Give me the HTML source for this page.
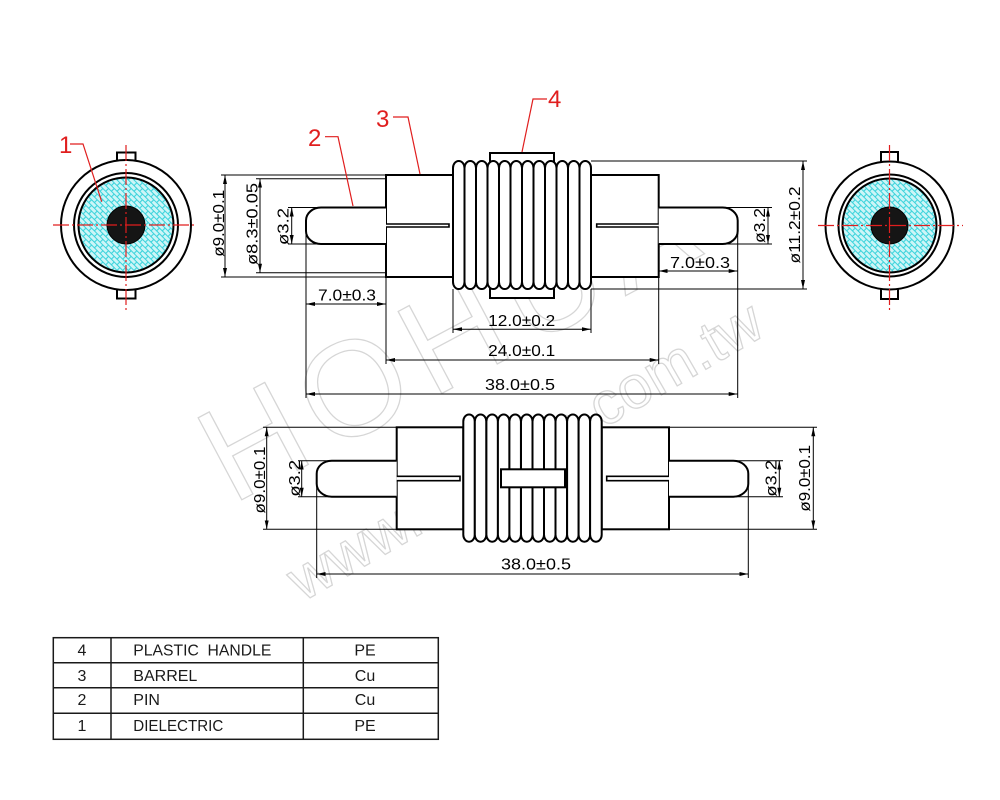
<!DOCTYPE html>
<html><head><meta charset="utf-8"><style>
html,body{margin:0;padding:0;background:#fff;}
svg{display:block;}
text{font-family:"Liberation Sans",sans-serif;}
</style></head><body>
<svg width="1000" height="800" viewBox="0 0 1000 800" xmlns="http://www.w3.org/2000/svg">
<defs>
<marker id="ar" viewBox="0 -3 9 6" refX="9" refY="0" markerWidth="9" markerHeight="6" markerUnits="userSpaceOnUse" orient="auto-start-reverse"><path d="M9,0 L0,-2 L0,2z" fill="#000"/></marker>
<pattern id="hat" patternUnits="userSpaceOnUse" width="8" height="8" patternTransform="rotate(45)">
<rect width="8" height="8" fill="#cdf5f7"/>
<path d="M0,0.5H8M0,4.5H8M2,0.5V4.5M6,4.5V8.5" stroke="#3ad3db" stroke-width="1.1" fill="none"/>
</pattern>
</defs>
<rect width="1000" height="800" fill="#fff"/>

<!-- watermark -->
<g fill="none" stroke="#d6d6d6" stroke-width="1.3">
<text x="232" y="505" font-size="135" letter-spacing="12" transform="rotate(-28 232 505)">HOHUA</text>
<text x="535" y="468" font-size="60" text-anchor="middle" transform="rotate(-30 535 468)">www.ho-hua.com.tw</text>
</g>

<!-- ========== LEFT CIRCLE VIEW ========== -->
<g stroke="#000" stroke-width="2">
<rect x="117" y="152.5" width="18.5" height="11" fill="#fff"/>
<rect x="117" y="287.5" width="18.5" height="11" fill="#fff"/>
<circle cx="126" cy="225" r="65" fill="#fff"/>
<circle cx="126" cy="225" r="52" fill="#fff"/>
<circle cx="126" cy="225" r="47.5" fill="url(#hat)"/>
<circle cx="126" cy="225" r="19" fill="#151515" stroke-width="1"/>
</g>
<g stroke="#e01e1e" stroke-width="1.2" stroke-dasharray="16 3 2 3">
<line x1="53" y1="225" x2="197" y2="225"/>
<line x1="126" y1="145" x2="126" y2="312"/>
</g>
<!-- RIGHT CIRCLE VIEW -->
<g stroke="#000" stroke-width="2">
<rect x="881" y="152" width="17" height="11" fill="#fff"/>
<rect x="881" y="288" width="17" height="11" fill="#fff"/>
<circle cx="889.5" cy="225.5" r="64" fill="#fff"/>
<circle cx="889.5" cy="225.5" r="51" fill="#fff"/>
<circle cx="889.5" cy="225.5" r="47" fill="url(#hat)"/>
<circle cx="889.5" cy="225.5" r="18.5" fill="#151515" stroke-width="1"/>
</g>
<g stroke="#e01e1e" stroke-width="1.2" stroke-dasharray="16 3 2 3">
<line x1="818" y1="225.5" x2="963" y2="225.5"/>
<line x1="889.5" y1="145" x2="889.5" y2="312"/>
</g>

<!-- ========== TOP VIEW ========== -->
<g stroke="#000" stroke-width="2" fill="#fff">
<rect x="490" y="153" width="64" height="145"/>
<rect x="386" y="175" width="67" height="102"/>
<rect x="591" y="175" width="67.7" height="102"/>
<path d="M386,207.5 L321,207.5 A15,13 0 0 0 306,220.5 L306,231 A15,13 0 0 0 321,244 L386,244"/>
<path d="M658.7,207.5 L722.7,207.5 A15,13 0 0 1 737.7,220.5 L737.7,231 A15,13 0 0 1 722.7,244 L658.7,244"/>
<path d="M386,224 H449 V227 H386" stroke-width="1.6"/>
<path d="M658.7,224 H596.7 V227 H658.7" stroke-width="1.6"/>
<rect x="453" y="161" width="11.5" height="128" rx="5.7" ry="7"/>
<rect x="464.5" y="161" width="11.5" height="128" rx="5.7" ry="7"/>
<rect x="476" y="161" width="11.5" height="128" rx="5.7" ry="7"/>
<rect x="487.5" y="161" width="11.5" height="128" rx="5.7" ry="7"/>
<rect x="499" y="161" width="11.5" height="128" rx="5.7" ry="7"/>
<rect x="510.5" y="161" width="11.5" height="128" rx="5.7" ry="7"/>
<rect x="522" y="161" width="11.5" height="128" rx="5.7" ry="7"/>
<rect x="533.5" y="161" width="11.5" height="128" rx="5.7" ry="7"/>
<rect x="545" y="161" width="11.5" height="128" rx="5.7" ry="7"/>
<rect x="556.5" y="161" width="11.5" height="128" rx="5.7" ry="7"/>
<rect x="568" y="161" width="11.5" height="128" rx="5.7" ry="7"/>
<rect x="579.5" y="161" width="11.5" height="128" rx="5.7" ry="7"/>
</g>

<!-- top view dimensions -->
<g stroke="#000" stroke-width="1" fill="none">
<line x1="221" y1="175" x2="386" y2="175"/>
<line x1="221" y1="277" x2="386" y2="277"/>
<line x1="256" y1="178.7" x2="386" y2="178.7"/>
<line x1="256" y1="272.7" x2="386" y2="272.7"/>
<line x1="288" y1="207.5" x2="320" y2="207.5"/>
<line x1="288" y1="244" x2="320" y2="244"/>
<line x1="306" y1="226" x2="306" y2="398"/>
<line x1="386" y1="277" x2="386" y2="364"/>
<line x1="453" y1="289" x2="453" y2="333"/>
<line x1="591" y1="289" x2="591" y2="333"/>
<line x1="658.7" y1="277" x2="658.7" y2="364"/>
<line x1="737.7" y1="226" x2="737.7" y2="398"/>
<line x1="722" y1="207.5" x2="772" y2="207.5"/>
<line x1="722" y1="244" x2="772" y2="244"/>
<line x1="591" y1="161" x2="807" y2="161"/>
<line x1="591" y1="289" x2="807" y2="289"/>
<g marker-start="url(#ar)" marker-end="url(#ar)">
<line x1="225" y1="175" x2="225" y2="277"/>
<line x1="260" y1="178.7" x2="260" y2="272.7"/>
<line x1="291.7" y1="207.5" x2="291.7" y2="244"/>
<line x1="306" y1="304" x2="386" y2="304"/>
<line x1="453" y1="329.3" x2="591" y2="329.3"/>
<line x1="386" y1="360" x2="658.7" y2="360"/>
<line x1="306" y1="394" x2="737.7" y2="394"/>
<line x1="658.7" y1="271" x2="737.7" y2="271"/>
<line x1="768" y1="207.5" x2="768" y2="244"/>
<line x1="803" y1="161" x2="803" y2="289"/>
</g>
</g>
<g font-size="16" fill="#000">
<text transform="translate(224,223.3) rotate(-90)" text-anchor="middle" textLength="67" lengthAdjust="spacingAndGlyphs">ø9.0±0.1</text>
<text transform="translate(257.3,224) rotate(-90)" text-anchor="middle" textLength="82" lengthAdjust="spacingAndGlyphs">ø8.3±0.05</text>
<text transform="translate(288.3,226.5) rotate(-90)" text-anchor="middle" textLength="37" lengthAdjust="spacingAndGlyphs">ø3.2</text>
<text transform="translate(765,225.5) rotate(-90)" text-anchor="middle" textLength="35" lengthAdjust="spacingAndGlyphs">ø3.2</text>
<text transform="translate(800,225) rotate(-90)" text-anchor="middle" textLength="77" lengthAdjust="spacingAndGlyphs">ø11.2±0.2</text>
<text x="347" y="300.5" text-anchor="middle" textLength="58" lengthAdjust="spacingAndGlyphs">7.0±0.3</text>
<text x="700" y="268" text-anchor="middle" textLength="60" lengthAdjust="spacingAndGlyphs">7.0±0.3</text>
<text x="521.7" y="326" text-anchor="middle" textLength="67" lengthAdjust="spacingAndGlyphs">12.0±0.2</text>
<text x="521.7" y="356" text-anchor="middle" textLength="67" lengthAdjust="spacingAndGlyphs">24.0±0.1</text>
<text x="520" y="390" text-anchor="middle" textLength="70" lengthAdjust="spacingAndGlyphs">38.0±0.5</text>
</g>

<!-- red labels -->
<g stroke="#e01e1e" stroke-width="1.2" fill="none">
<polyline points="70,144 83,144 101.7,201.7"/>
<polyline points="325,136.7 338,136.7 353,206"/>
<polyline points="393,117 408,117 420,174"/>
<polyline points="547,99 533,99 522,152"/>
</g>
<g fill="#e01e1e" font-size="24">
<text x="59" y="153">1</text>
<text x="308" y="146">2</text>
<text x="376" y="127">3</text>
<text x="548" y="107">4</text>
</g>

<!-- ========== BOTTOM VIEW ========== -->
<g stroke="#000" stroke-width="2" fill="#fff">
<rect x="396.7" y="427.3" width="66.6" height="102"/>
<rect x="601.7" y="427.3" width="67.3" height="102"/>
<path d="M396.7,460.7 L331.7,460.7 A15,13 0 0 0 316.7,473.7 L316.7,483.7 A15,13 0 0 0 331.7,496.7 L396.7,496.7"/>
<path d="M669,460.7 L733.3,460.7 A15,13 0 0 1 748.3,473.7 L748.3,483.7 A15,13 0 0 1 733.3,496.7 L669,496.7"/>
<path d="M396.7,476.3 H460 V480.7 H396.7" stroke-width="1.6"/>
<path d="M669,476.3 H606.7 V480.7 H669" stroke-width="1.6"/>
<rect x="463.3" y="414.5" width="11.53" height="127.2" rx="5.7" ry="7"/>
<rect x="474.8" y="414.5" width="11.53" height="127.2" rx="5.7" ry="7"/>
<rect x="486.4" y="414.5" width="11.53" height="127.2" rx="5.7" ry="7"/>
<rect x="497.9" y="414.5" width="11.53" height="127.2" rx="5.7" ry="7"/>
<rect x="509.4" y="414.5" width="11.53" height="127.2" rx="5.7" ry="7"/>
<rect x="521" y="414.5" width="11.53" height="127.2" rx="5.7" ry="7"/>
<rect x="532.5" y="414.5" width="11.53" height="127.2" rx="5.7" ry="7"/>
<rect x="544" y="414.5" width="11.53" height="127.2" rx="5.7" ry="7"/>
<rect x="555.5" y="414.5" width="11.53" height="127.2" rx="5.7" ry="7"/>
<rect x="567.1" y="414.5" width="11.53" height="127.2" rx="5.7" ry="7"/>
<rect x="578.6" y="414.5" width="11.53" height="127.2" rx="5.7" ry="7"/>
<rect x="590.1" y="414.5" width="11.6" height="127.2" rx="5.7" ry="7"/>
<rect x="501" y="469.3" width="64" height="18"/>
</g>
<g stroke="#000" stroke-width="1" fill="none">
<line x1="263" y1="427.3" x2="396.7" y2="427.3"/>
<line x1="263" y1="529.3" x2="396.7" y2="529.3"/>
<line x1="298" y1="460.7" x2="331" y2="460.7"/>
<line x1="298" y1="496.7" x2="331" y2="496.7"/>
<line x1="669" y1="427.3" x2="817" y2="427.3"/>
<line x1="669" y1="529.3" x2="817" y2="529.3"/>
<line x1="734" y1="460.7" x2="783" y2="460.7"/>
<line x1="734" y1="496.7" x2="783" y2="496.7"/>
<line x1="316.7" y1="479" x2="316.7" y2="578"/>
<line x1="748.3" y1="479" x2="748.3" y2="578"/>
<g marker-start="url(#ar)" marker-end="url(#ar)">
<line x1="266.7" y1="427.3" x2="266.7" y2="529.3"/>
<line x1="301.7" y1="460.7" x2="301.7" y2="496.7"/>
<line x1="779.3" y1="460.7" x2="779.3" y2="496.7"/>
<line x1="813.3" y1="427.3" x2="813.3" y2="529.3"/>
<line x1="316.7" y1="574" x2="748.3" y2="574"/>
</g>
</g>
<g font-size="16" fill="#000">
<text transform="translate(265,480) rotate(-90)" text-anchor="middle" textLength="67" lengthAdjust="spacingAndGlyphs">ø9.0±0.1</text>
<text transform="translate(300,478.3) rotate(-90)" text-anchor="middle" textLength="36.7" lengthAdjust="spacingAndGlyphs">ø3.2</text>
<text transform="translate(776.7,478.3) rotate(-90)" text-anchor="middle" textLength="36.7" lengthAdjust="spacingAndGlyphs">ø3.2</text>
<text transform="translate(810,478.3) rotate(-90)" text-anchor="middle" textLength="66.7" lengthAdjust="spacingAndGlyphs">ø9.0±0.1</text>
<text x="536" y="569.5" text-anchor="middle" textLength="70" lengthAdjust="spacingAndGlyphs">38.0±0.5</text>
</g>

<!-- ========== TABLE ========== -->
<g stroke="#1a1a1a" stroke-width="1.5" fill="none">
<rect x="53.3" y="637.7" width="385" height="101.6"/>
<line x1="53.3" y1="662.7" x2="438.3" y2="662.7"/>
<line x1="53.3" y1="687.7" x2="438.3" y2="687.7"/>
<line x1="53.3" y1="713.3" x2="438.3" y2="713.3"/>
<line x1="111" y1="637.7" x2="111" y2="739.3"/>
<line x1="303.3" y1="637.7" x2="303.3" y2="739.3"/>
</g>
<g font-size="16" fill="#1a1a1a">
<text x="82" y="655.7" text-anchor="middle">4</text>
<text x="82" y="681" text-anchor="middle">3</text>
<text x="82" y="705" text-anchor="middle">2</text>
<text x="82" y="731" text-anchor="middle">1</text>
<text x="133.3" y="655.7" textLength="138" lengthAdjust="spacingAndGlyphs" xml:space="preserve">PLASTIC  HANDLE</text>
<text x="133.3" y="681">BARREL</text>
<text x="133.3" y="705">PIN</text>
<text x="133.3" y="731" textLength="90" lengthAdjust="spacingAndGlyphs">DIELECTRIC</text>
<text x="365" y="655.7" text-anchor="middle">PE</text>
<text x="365" y="681" text-anchor="middle">Cu</text>
<text x="365" y="705" text-anchor="middle">Cu</text>
<text x="365" y="731" text-anchor="middle">PE</text>
</g>
</svg>
</body></html>
